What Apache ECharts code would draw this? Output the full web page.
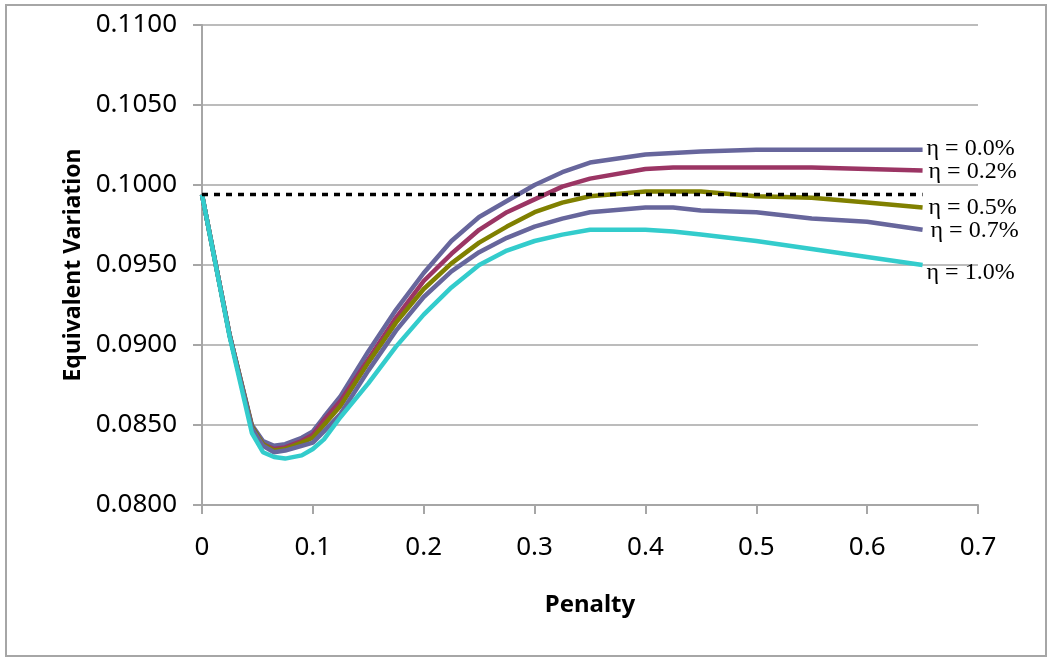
<!DOCTYPE html>
<html>
<head>
<meta charset="utf-8">
<script src="https://cdn.jsdelivr.net/npm/echarts@6/dist/echarts.min.js"></script>
<style>
html,body{margin:0;padding:0;background:#fff;}
#chart{width:1052px;height:658px;}
</style>
</head>
<body>
<div id="chart"></div>
<script>
const penalty = [0, 0.025, 0.045, 0.055, 0.065, 0.075, 0.09, 0.1, 0.11, 0.125, 0.15, 0.175, 0.2, 0.225, 0.25, 0.275, 0.3, 0.325, 0.35, 0.4, 0.425, 0.45, 0.5, 0.55, 0.6, 0.65];
const eta00 = [0.0994, 0.0906, 0.0850, 0.0840, 0.0837, 0.0838, 0.0842, 0.0846, 0.0855, 0.0868, 0.0896, 0.0922, 0.0945, 0.0965, 0.0980, 0.0990, 0.1000, 0.1008, 0.1014, 0.1019, 0.1020, 0.1021, 0.1022, 0.1022, 0.1022, 0.1022];
const eta02 = [0.0994, 0.0906, 0.0849, 0.0838, 0.0835, 0.0836, 0.0840, 0.0844, 0.0853, 0.0865, 0.0891, 0.0917, 0.0940, 0.0957, 0.0972, 0.0983, 0.0991, 0.0999, 0.1004, 0.1010, 0.1011, 0.1011, 0.1011, 0.1011, 0.1010, 0.1009];
const eta05 = [0.0994, 0.0906, 0.0849, 0.0838, 0.0834, 0.0835, 0.0839, 0.0842, 0.0850, 0.0862, 0.0889, 0.0914, 0.0935, 0.0951, 0.0964, 0.0974, 0.0983, 0.0989, 0.0993, 0.0996, 0.0996, 0.0996, 0.0993, 0.0992, 0.0989, 0.0986];
const eta07 = [0.0994, 0.0906, 0.0848, 0.0837, 0.0833, 0.0834, 0.0837, 0.0839, 0.0846, 0.0857, 0.0884, 0.0909, 0.0930, 0.0946, 0.0958, 0.0967, 0.0974, 0.0979, 0.0983, 0.0986, 0.0986, 0.0984, 0.0983, 0.0979, 0.0977, 0.0972];
const eta10 = [0.0994, 0.0905, 0.0845, 0.0833, 0.0830, 0.0829, 0.0831, 0.0835, 0.0841, 0.0855, 0.0876, 0.0899, 0.0919, 0.0936, 0.0950, 0.0959, 0.0965, 0.0969, 0.0972, 0.0972, 0.0971, 0.0969, 0.0965, 0.0960, 0.0955, 0.0950];
const baselineX = [0, 0.65];
const baselineY = [0.0994, 0.0994];
const seriesNames = ['η = 0.0%', 'η = 0.2%', 'η = 0.5%', 'η = 0.7%', 'η = 1.0%'];
const seriesValues = [eta00, eta02, eta05, eta07, eta10];
const seriesColors = ['#67669c', '#9b3564', '#808000', '#67669c', '#33cccc'];
const labelOffsets = [[2, -1], [4, 1], [4, 0], [6, 1], [2, 8]];

const chart = echarts.init(document.getElementById('chart'));
const gray = '#a6a6a6';
const series = seriesNames.map((n, i) => ({
  name: n,
  type: 'line',
  data: penalty.map((x, j) => [x, seriesValues[i][j]]),
  showSymbol: false,
  symbol: 'none',
  lineStyle: {color: seriesColors[i], width: 4.5},
  itemStyle: {color: seriesColors[i]},
  z: 2 + i,
  endLabel: {
    show: true,
    formatter: n,
    fontFamily: 'Liberation Serif',
    fontSize: 24,
    color: '#000',
    distance: 2,
    offset: labelOffsets[i]
  },
  animation: false
}));
series.push({
  name: 'baseline',
  type: 'line',
  data: baselineX.map((x, j) => [x, baselineY[j]]),
  showSymbol: false,
  symbol: 'none',
  lineStyle: {color: '#000', width: 3.5, type: [6, 6]},
  z: 10,
  animation: false
});

chart.setOption({
  animation: false,
  backgroundColor: '#fff',
  grid: {left: 202, right: 74, top: 25, bottom: 153, containLabel: false},
  xAxis: {
    type: 'value',
    min: 0, max: 0.7, interval: 0.1,
    name: 'Penalty',
    nameLocation: 'middle',
    nameGap: 88,
    nameTextStyle: {fontFamily: 'Noto Sans', fontWeight: 'bold', fontSize: 24, color: '#000'},
    axisLine: {show: true, lineStyle: {color: gray, width: 2}},
    axisTick: {show: true, inside: false, length: 9, lineStyle: {color: gray, width: 2}},
    axisLabel: {
      fontFamily: 'Noto Sans', fontSize: 26, color: '#000', margin: 30,
      formatter: v => (Math.abs(v) < 1e-9 ? '0' : v.toFixed(1))
    },
    splitLine: {show: false}
  },
  yAxis: {
    type: 'value',
    min: 0.08, max: 0.11, interval: 0.005,
    name: 'Equivalent Variation',
    nameLocation: 'middle',
    nameGap: 112,
    nameRotate: 90,
    nameTextStyle: {fontFamily: 'Noto Sans', fontWeight: 'bold', fontSize: 23, color: '#000'},
    axisLine: {show: true, lineStyle: {color: gray, width: 2}},
    axisTick: {show: true, inside: false, length: 9, lineStyle: {color: gray, width: 2}},
    axisLabel: {
      fontFamily: 'Noto Sans', fontSize: 26, color: '#000', margin: 25,
      formatter: v => v.toFixed(4)
    },
    splitLine: {show: true, lineStyle: {color: gray, width: 1.5}}
  },
  graphic: [{
    type: 'rect',
    shape: {x: 6, y: 5, width: 1040, height: 651},
    style: {fill: 'none', stroke: gray, lineWidth: 2},
    silent: true
  }],
  series: series
});
</script>
</body>
</html>
